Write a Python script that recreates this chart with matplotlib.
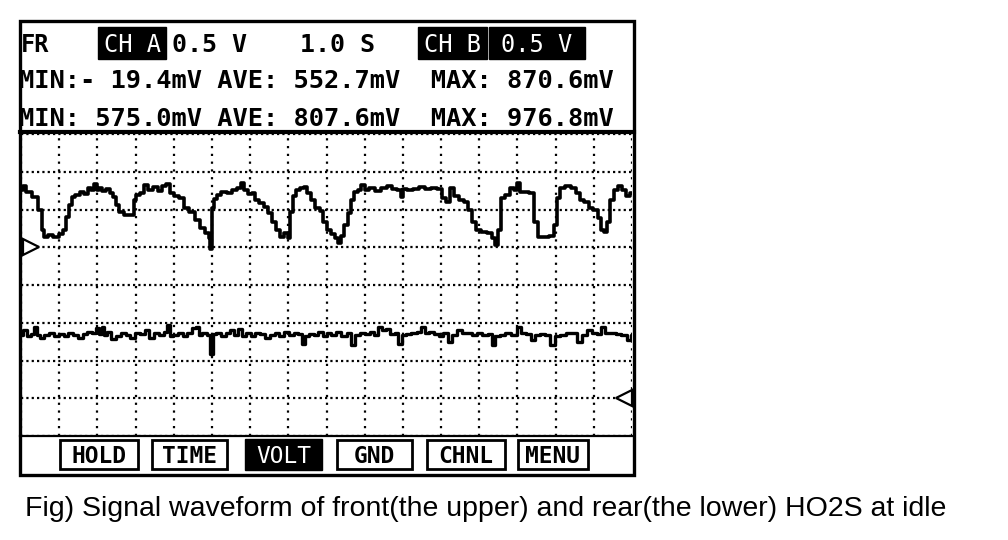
import numpy as np
import matplotlib.pyplot as plt
from matplotlib.patches import Rectangle
from matplotlib.transforms import blended_transform_factory

# front HO2S (channel A): time in s, signal in V
ch_a_t = [0.03, 0.10, 0.16, 0.39, 0.50, 0.58, 0.65, 0.76, 0.92, 1.07, 1.15, 1.23, 1.31, 1.36,
          1.49, 1.60, 1.70, 1.81, 1.88, 1.94, 2.02, 2.09, 2.17, 2.28, 2.38, 2.46, 2.54, 2.59,
          2.67, 2.75, 2.93, 2.98, 3.04, 3.17, 3.27, 3.38, 3.51, 3.64, 3.77, 3.85, 3.93, 4.06,
          4.21, 4.32, 4.48, 4.63, 4.76, 4.87, 4.95, 4.97, 5.03, 5.10, 5.18, 5.31, 5.47, 5.60,
          5.73, 5.81, 5.89, 5.99, 6.10, 6.18, 6.31, 6.41, 6.52, 6.62, 6.73, 6.83, 6.94, 7.02,
          7.07, 7.15, 7.25, 7.36, 7.46, 7.54, 7.64, 7.77, 7.88, 7.96, 8.06, 8.17, 8.27, 8.35,
          8.40, 8.51, 8.61, 8.69, 8.77, 8.87, 8.95, 9.06, 9.19, 9.35, 9.50, 9.66, 9.79, 9.92,
          9.97, 10.03, 10.18, 10.34, 10.50, 10.65, 10.81, 10.97, 11.10, 11.18, 11.28, 11.39,
          11.54, 11.65, 11.75, 11.86, 11.96, 12.12, 12.28, 12.38, 12.43, 12.54, 12.62, 12.75,
          12.85, 12.96, 13.04, 13.12, 13.25, 13.38, 13.51, 13.59, 13.74, 13.93, 14.01, 14.06,
          14.19, 14.32, 14.48, 14.58, 14.69, 14.82, 14.92, 15.05, 15.16, 15.24, 15.31, 15.39,
          15.47, 15.58, 15.68, 15.79, 15.92, 15.99]
ch_a_v = [0.755, 0.808, 0.729, 0.663, 0.490, 0.225, 0.133, 0.159, 0.133, 0.172, 0.225, 0.398,
          0.557, 0.663, 0.689, 0.729, 0.702, 0.782, 0.755, 0.835, 0.755, 0.782, 0.742, 0.769,
          0.716, 0.663, 0.557, 0.464, 0.464, 0.424, 0.424, 0.623, 0.689, 0.716, 0.822, 0.755,
          0.795, 0.742, 0.808, 0.835, 0.716, 0.676, 0.649, 0.517, 0.464, 0.358, 0.252, 0.186,
          0.119, -0.019, 0.517, 0.636, 0.689, 0.729, 0.716, 0.755, 0.782, 0.848, 0.755, 0.702,
          0.716, 0.623, 0.583, 0.530, 0.451, 0.331, 0.225, 0.133, 0.186, 0.119, 0.464, 0.676,
          0.755, 0.782, 0.795, 0.716, 0.623, 0.517, 0.477, 0.331, 0.225, 0.172, 0.119, 0.053,
          0.146, 0.292, 0.451, 0.623, 0.729, 0.755, 0.822, 0.755, 0.782, 0.742, 0.782, 0.808,
          0.769, 0.755, 0.663, 0.769, 0.755, 0.769, 0.795, 0.769, 0.782, 0.769, 0.649, 0.596,
          0.782, 0.676, 0.623, 0.596, 0.490, 0.331, 0.225, 0.199, 0.186, 0.119, 0.027, 0.225,
          0.649, 0.689, 0.782, 0.755, 0.848, 0.729, 0.729, 0.716, 0.331, 0.133, 0.133, 0.146,
          0.292, 0.649, 0.782, 0.808, 0.782, 0.716, 0.623, 0.596, 0.517, 0.490, 0.384, 0.225,
          0.199, 0.331, 0.623, 0.755, 0.808, 0.755, 0.676, 0.716]

# rear HO2S (channel B)
ch_b_t = [0.00, 0.12, 0.20, 0.30, 0.38, 0.45, 0.55, 0.68, 0.80, 0.92, 1.05, 1.18, 1.30, 1.42,
          1.55, 1.68, 1.80, 1.92, 2.02, 2.08, 2.14, 2.20, 2.30, 2.42, 2.55, 2.68, 2.80, 2.92,
          3.05, 3.18, 3.30, 3.42, 3.55, 3.68, 3.80, 3.86, 3.92, 4.05, 4.18, 4.30, 4.42, 4.55,
          4.62, 4.68, 4.80, 4.92, 4.99, 5.04, 5.18, 5.30, 5.42, 5.55, 5.62, 5.75, 5.85, 5.95,
          6.08, 6.20, 6.32, 6.45, 6.58, 6.70, 6.82, 6.95, 7.08, 7.20, 7.33, 7.40, 7.48, 7.60,
          7.72, 7.85, 7.95, 8.05, 8.18, 8.30, 8.45, 8.60, 8.70, 8.80, 8.95, 9.08, 9.20, 9.30,
          9.40, 9.52, 9.60, 9.72, 9.85, 9.92, 10.02, 10.15, 10.30, 10.42, 10.53, 10.62, 10.75,
          10.88, 11.00, 11.12, 11.23, 11.35, 11.49, 11.60, 11.75, 11.88, 12.00, 12.15, 12.30,
          12.37, 12.48, 12.60, 12.75, 12.90, 13.06, 13.15, 13.30, 13.41, 13.52, 13.65, 13.80,
          13.93, 14.05, 14.20, 14.35, 14.50, 14.63, 14.75, 14.90, 15.02, 15.15, 15.25, 15.35,
          15.50, 15.65, 15.80, 15.94, 16.00]
ch_b_v = [0.84, 0.90, 0.82, 0.85, 0.94, 0.84, 0.80, 0.84, 0.86, 0.82, 0.85, 0.83, 0.87, 0.84,
          0.80, 0.85, 0.88, 0.86, 0.93, 0.85, 0.95, 0.84, 0.88, 0.79, 0.82, 0.86, 0.84, 0.80,
          0.86, 0.85, 0.90, 0.80, 0.86, 0.84, 0.88, 0.97, 0.83, 0.84, 0.86, 0.82, 0.86, 0.93,
          0.95, 0.84, 0.86, 0.84, 0.58, 0.85, 0.87, 0.83, 0.86, 0.90, 0.84, 0.92, 0.82, 0.86,
          0.83, 0.87, 0.85, 0.80, 0.84, 0.86, 0.83, 0.88, 0.84, 0.86, 0.85, 0.72, 0.83, 0.85,
          0.84, 0.88, 0.82, 0.86, 0.84, 0.88, 0.83, 0.86, 0.70, 0.84, 0.86, 0.85, 0.88, 0.84,
          0.94, 0.90, 0.92, 0.85, 0.86, 0.72, 0.84, 0.85, 0.86, 0.88, 0.94, 0.86, 0.88,
          0.85, 0.82, 0.86, 0.75, 0.84, 0.90, 0.86, 0.87, 0.84, 0.86, 0.84, 0.85,
          0.70, 0.82, 0.84, 0.86, 0.84, 0.94, 0.86, 0.85, 0.77, 0.84, 0.85, 0.84,
          0.71, 0.82, 0.84, 0.86, 0.87, 0.75, 0.84, 0.90, 0.86, 0.85, 0.94, 0.87,
          0.86, 0.85, 0.84, 0.77, 0.84]

volts_per_div = 0.5
sec_per_div = 1.0
n_xdiv, n_ydiv = 16, 8
ch_a_zero_div = 5
ch_b_zero_div = 1

stats_a = "MIN:- 19.4mV AVE: 552.7mV  MAX: 870.6mV"
stats_b = "MIN: 575.0mV AVE: 807.6mV  MAX: 976.8mV"
buttons = ["HOLD", "TIME", "VOLT", "GND", "CHNL", "MENU"]
selected = "VOLT"
caption = "Fig) Signal waveform of front(the upper) and rear(the lower) HO2S at idle"

W, H = 1008, 540
fig = plt.figure(figsize=(W / 100, H / 100), dpi=100)

# background layer in pixel coordinates for the screen frame and text
bg = fig.add_axes([0, 0, 1, 1])
bg.set_xlim(0, W)
bg.set_ylim(H, 0)
bg.axis("off")

bg.add_patch(Rectangle((19.5, 21), 614, 453.5, fill=False, lw=2.4, ec="k"))
bg.plot([19.5, 633.5], [132, 132], color="k", lw=3)
bg.plot([19.5, 633.5], [435.5, 435.5], color="k", lw=1.6)

mono = "DejaVu Sans Mono"
# header row 1
bg.text(21, 52, "FR", family=mono, weight="bold", fontsize=17)
for x0, x1, label in [(98, 166, "CH A"), (418, 487, "CH B"), (489, 585, "0.5 V")]:
    bg.add_patch(Rectangle((x0, 27), x1 - x0, 32, color="k"))
    bg.text((x0 + x1) / 2, 52, label, family=mono, fontsize=17, color="white", ha="center")
bg.text(172, 52, "0.5 V", family=mono, weight="bold", fontsize=18)
bg.text(300, 52, "1.0 S", family=mono, weight="bold", fontsize=18)
bg.text(19, 88, stats_a, family=mono, weight="bold", fontsize=18.3)
bg.text(19, 126, stats_b, family=mono, weight="bold", fontsize=18.3)

# soft keys
btn_x = [(60, 138), (152, 227), (245, 322), (337, 412), (427, 505), (518, 588)]
for (x0, x1), label in zip(btn_x, buttons):
    if label == selected:
        bg.add_patch(Rectangle((x0, 439), x1 - x0, 31, color="k"))
        bg.text((x0 + x1) / 2, 463, label, family=mono, fontsize=16.5, color="white", ha="center")
    else:
        bg.add_patch(Rectangle((x0, 440), x1 - x0, 29, fill=False, ec="k", lw=2))
        bg.text((x0 + x1) / 2, 463, label, family=mono, weight="bold", fontsize=16.5, ha="center")

bg.text(25, 516, caption, family="Liberation Sans", fontsize=20.5)

# scope screen
ax = fig.add_axes([21 / W, 1 - 436 / H, 611 / W, 302 / H])
ax.set_facecolor("none")
ax.set_xlim(0, n_xdiv * sec_per_div)
ax.set_ylim(-ch_a_zero_div * volts_per_div, (n_ydiv - ch_a_zero_div) * volts_per_div)
ax.set_xticks(np.arange(n_xdiv + 1) * sec_per_div)
ax.set_yticks(np.arange(-ch_a_zero_div, n_ydiv - ch_a_zero_div + 1) * volts_per_div)
ax.tick_params(length=0, labelbottom=False, labelleft=False)
ax.grid(True, axis="x", color="k", lw=1.6, linestyle=(0, (1, 2.5)))
ax.grid(True, axis="y", color="k", lw=1.6, linestyle=(0, (1, 1.4)))
for s in ax.spines.values():
    s.set_visible(False)

axb = ax.twinx()
axb.set_ylim(-ch_b_zero_div * volts_per_div, (n_ydiv - ch_b_zero_div) * volts_per_div)
axb.set_yticks([])
for s in axb.spines.values():
    s.set_visible(False)

ax.plot(ch_a_t, ch_a_v, color="k", lw=2.6, drawstyle="steps-mid")
axb.plot(ch_b_t, ch_b_v, color="k", lw=2.4, drawstyle="steps-mid")

# ground markers
trA = blended_transform_factory(ax.transAxes, ax.transData)
ax.plot([0.016], [0], transform=trA, marker=">", ms=12, mfc="white", mec="k", mew=1.6,
        clip_on=False, zorder=5)
trB = blended_transform_factory(axb.transAxes, axb.transData)
axb.plot([0.987], [0], transform=trB, marker="<", ms=12, mfc="white", mec="k", mew=1.6,
         clip_on=False, zorder=5)

fig.savefig("out.png", dpi=100)
